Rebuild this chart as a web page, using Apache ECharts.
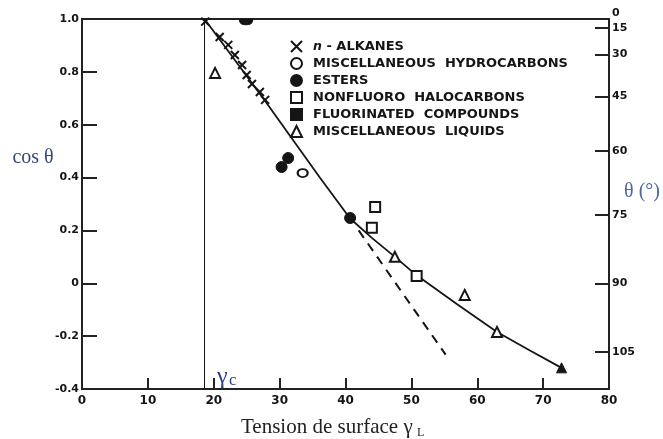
<!DOCTYPE html>
<html><head><meta charset="utf-8">
<script src="https://cdn.jsdelivr.net/npm/echarts@6/dist/echarts.min.js"></script>
<style>html,body{margin:0;padding:0;background:#fff}#c{width:663px;height:439px}</style>
</head><body><div id="c"></div>
<script>
// ---- data ----
const alkanesX = [18.7, 20.9, 22.2, 23.2, 24.3, 25.0, 25.8, 27.0, 27.8];
const alkanesY = [0.99, 0.932, 0.902, 0.864, 0.826, 0.788, 0.754, 0.724, 0.694];
const miscHcX = [33.5];
const miscHcY = [0.417];
const estersX = [30.3, 31.3, 40.7];
const estersY = [0.44, 0.474, 0.247];
const haloX = [44.5, 44.0, 50.8];
const haloY = [0.289, 0.21, 0.028];
const fluoroX = [24.9];
const fluoroY = [1.0];
const liquidsX = [20.2, 47.5, 58.1, 63.0, 72.8];
const liquidsY = [0.796, 0.10, -0.044, -0.184, -0.32];
const fitX = [18.6, 27.8, 36.1, 40.7, 44.0, 47.5, 50.8, 57.0, 63.0, 68.0, 72.8];
const fitY = [1.0, 0.69, 0.40, 0.245, 0.172, 0.10, 0.03, -0.08, -0.184, -0.254, -0.32];
const dashX = [42.0, 55.2];
const dashY = [0.20, -0.27];
const gammaC = 18.6;
const thetaTicks = [0, 15, 30, 45, 60, 75, 90, 105];
const seriesNames = ['n-ALKANES', 'MISCELLANEOUS  HYDROCARBONS', 'ESTERS', 'NONFLUORO  HALOCARBONS', 'FLUORINATED  COMPOUNDS', 'MISCELLANEOUS  LIQUIDS'];
const legendIcons = [null, null, null, null, 'rect', null];

// ---- build ----
const zip = (xs, ys) => xs.map((x, i) => [x, ys[i]]);
const ink = '#151515';
const labelFont = {fontFamily: 'DejaVu Sans', fontWeight: 'bold', fontSize: 11, color: ink};
const openStyle = {color: '#fff', borderColor: ink, borderWidth: 2, opacity: 1};
const filledStyle = {color: ink, borderColor: ink, borderWidth: 1, opacity: 1};
const crossPath = 'path://M0,0L10,10M10,0L0,10';
const halfBlob = 'path://M0,0L12,0Q12,5 6,5Q0,5 0,0Z';
const toCos = d => Math.cos(d * Math.PI / 180);
const toDeg = v => String(Math.round(Math.acos(Math.min(1, v)) * 180 / Math.PI));
const thetaPos = thetaTicks.map(toCos);

const chart = echarts.init(document.getElementById('c'));
chart.setOption({
  animation: false,
  backgroundColor: '#fff',
  grid: {left: 82, right: 54, top: 19, bottom: 50, show: true, borderColor: '#222', borderWidth: 2, backgroundColor: 'transparent'},
  xAxis: {
    type: 'value', min: 0, max: 80, interval: 10,
    axisLine: {show: true, onZero: false, lineStyle: {color: '#222', width: 2}},
    axisTick: {show: true, inside: true, length: 11, lineStyle: {color: '#222', width: 2}},
    axisLabel: Object.assign({}, labelFont, {margin: 6, fontSize: 12}),
    splitLine: {show: false}
  },
  yAxis: [{
    type: 'value', position: 'left', min: -0.4, max: 1, interval: 0.2,
    axisLine: {show: true, onZero: false, lineStyle: {color: '#222', width: 2}},
    axisTick: {show: true, inside: true, length: 15, lineStyle: {color: '#222', width: 2}},
    axisLabel: Object.assign({}, labelFont, {margin: 3, formatter: v => (Math.abs(v) < 1e-9 ? '0' : v.toFixed(1))}),
    splitLine: {show: false}
  }, {
    type: 'value', position: 'right', min: -0.4, max: 1,
    axisLine: {show: true, onZero: false, lineStyle: {color: '#222', width: 2}},
    axisTick: {show: true, inside: true, length: 14, lineStyle: {color: '#222', width: 2}, customValues: thetaPos.slice(1)},
    axisLabel: Object.assign({}, labelFont, {margin: 3, customValues: thetaPos.slice(1), formatter: toDeg}),
    splitLine: {show: false}
  }, {
    type: 'value', position: 'right', min: -0.4, max: 1,
    axisLine: {show: false}, axisTick: {show: false},
    axisLabel: Object.assign({}, labelFont, {margin: 3, verticalAlign: 'bottom', customValues: thetaPos.slice(0, 1), formatter: toDeg}),
    splitLine: {show: false}
  }],
  legend: {
    data: seriesNames.map((n, i) => legendIcons[i] ? {name: n, icon: legendIcons[i]} : {name: n}),
    orient: 'vertical', left: 285, top: 35,
    itemWidth: 11, itemHeight: 11, itemGap: 4, selectedMode: false,
    textStyle: Object.assign({}, labelFont, {fontSize: 13, padding: [0, 0, 0, 6],
      rich: {i: {fontStyle: 'italic', fontFamily: 'DejaVu Sans', fontSize: 12.5, color: ink}}}),
    formatter: n => n === 'n-ALKANES' ? '{i|n} - ALKANES' : n
  },
  series: [
    {type: 'line', name: 'fit', data: zip(fitX, fitY), showSymbol: false, z: 2,
      lineStyle: {color: ink, width: 1.8},
      markLine: {silent: true, symbol: 'none', label: {show: false}, lineStyle: {color: ink, width: 1, type: 'solid'},
        data: [{xAxis: gammaC}]}},
    {type: 'line', name: 'extrapolation', data: zip(dashX, dashY), showSymbol: false, z: 2,
      lineStyle: {color: ink, width: 2, type: [9, 7]}},
    {type: 'scatter', name: seriesNames[0], data: zip(alkanesX, alkanesY), symbol: crossPath, symbolSize: 8,
      itemStyle: {color: ink, borderColor: ink, borderWidth: 2, opacity: 1}, z: 5},
    {type: 'scatter', name: seriesNames[1], data: zip(miscHcX, miscHcY), symbol: 'circle', symbolSize: [10, 8], itemStyle: openStyle, z: 5},
    {type: 'scatter', name: seriesNames[2], data: zip(estersX, estersY), symbol: 'circle', symbolSize: 11, itemStyle: filledStyle, z: 5},
    {type: 'scatter', name: seriesNames[3], data: zip(haloX, haloY), symbol: 'rect', symbolSize: 10, itemStyle: openStyle, z: 5},
    {type: 'scatter', name: seriesNames[4], data: zip(fluoroX, fluoroY), symbol: halfBlob, symbolSize: [13, 6], symbolOffset: [0, 3],
      itemStyle: filledStyle, z: 5},
    {type: 'scatter', name: seriesNames[5], symbol: 'triangle', symbolSize: 10, itemStyle: openStyle, z: 5,
      data: zip(liquidsX, liquidsY).map((p, i) => i === liquidsX.length - 1 ? {value: p, itemStyle: filledStyle} : p)}
  ],
  graphic: [
    {type: 'text', x: 33, y: 158, style: {text: 'cos θ', fontFamily: 'Liberation Serif', fontSize: 20, fill: '#34497a', textAlign: 'center', textVerticalAlign: 'middle'}},
    {type: 'text', x: 642, y: 192, style: {text: 'θ (°)', fontFamily: 'Liberation Serif', fontSize: 20, fill: '#4a68a6', textAlign: 'center', textVerticalAlign: 'middle'}},
    {type: 'text', x: 217, y: 377, style: {text: 'γ', fontFamily: 'Liberation Serif', fontSize: 24, fill: '#2a3f86', textAlign: 'left', textVerticalAlign: 'middle'}},
    {type: 'text', x: 229, y: 381, style: {text: 'c', fontFamily: 'Liberation Serif', fontSize: 17, fill: '#2a3f86', textAlign: 'left', textVerticalAlign: 'middle'}},
    {type: 'text', x: 241, y: 427, style: {text: 'Tension de surface γ', fontFamily: 'Liberation Serif', fontSize: 21, fill: '#222', textAlign: 'left', textVerticalAlign: 'middle'}},
    {type: 'text', x: 417, y: 433, style: {text: 'L', fontFamily: 'Liberation Serif', fontSize: 12, fill: '#222', textAlign: 'left', textVerticalAlign: 'middle'}}
  ]
});
</script></body></html>
